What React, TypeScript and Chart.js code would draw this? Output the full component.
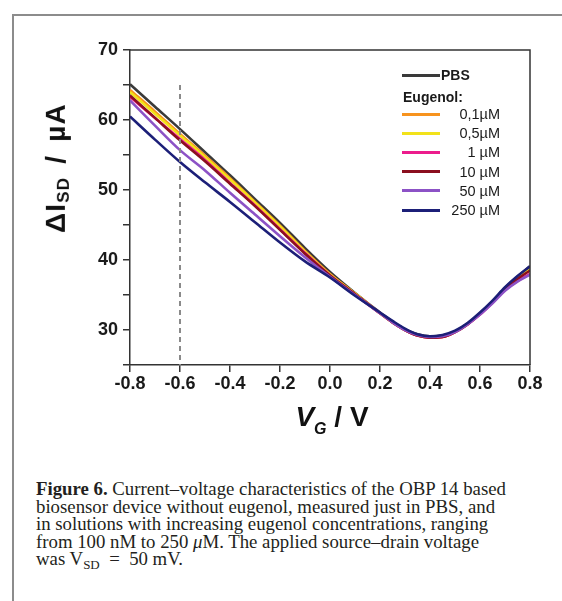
import React, { useEffect, useRef } from "react";
import { Chart, registerables } from "chart.js";

Chart.register(...registerables);

// ---- data ----
const voltages = [-0.8, -0.7, -0.6, -0.5, -0.4, -0.3, -0.2, -0.1, 0, 0.1, 0.2, 0.25, 0.3, 0.35, 0.4, 0.45, 0.5, 0.55, 0.6, 0.65, 0.7, 0.75, 0.8];

const pbs = [65.1, 61.9, 58.7, 55.4, 52.1, 48.7, 45.3, 41.7, 38.3, 35.3, 32.5, 31.2, 30.1, 29.4, 29.1, 29.2, 29.8, 30.9, 32.4, 34.1, 36.0, 37.6, 39.1];
const eug01 = [64.3, 61.2, 58.0, 54.9, 51.7, 48.3, 44.9, 41.3, 38.0, 35.2, 32.4, 31.1, 30.0, 29.2, 28.9, 29.0, 29.7, 30.8, 32.3, 34.0, 35.9, 37.4, 38.6];
const eug05 = [64.0, 60.9, 57.8, 54.7, 51.5, 48.2, 44.8, 41.2, 37.9, 35.2, 32.4, 31.1, 30.0, 29.3, 29.0, 29.1, 29.8, 30.9, 32.4, 34.0, 35.9, 37.4, 38.7];
const eug1 = [63.3, 60.3, 57.3, 54.3, 51.0, 47.8, 44.4, 41.0, 37.8, 35.1, 32.4, 31.1, 30.0, 29.2, 28.9, 29.0, 29.7, 30.8, 32.2, 33.9, 35.7, 37.0, 38.0];
const eug10 = [63.5, 60.3, 57.1, 54.1, 50.9, 47.7, 44.3, 40.9, 37.8, 35.1, 32.4, 31.1, 30.0, 29.2, 28.9, 29.0, 29.7, 30.8, 32.3, 34.0, 35.8, 37.3, 38.5];
const eug50 = [62.8, 59.2, 55.7, 52.8, 49.6, 46.5, 43.4, 40.4, 37.6, 35.0, 32.4, 31.1, 30.0, 29.3, 29.0, 29.1, 29.7, 30.8, 32.2, 33.8, 35.6, 36.9, 37.9];
const eug250 = [60.5, 57.2, 54.0, 51.1, 48.3, 45.4, 42.5, 39.8, 37.5, 34.9, 32.5, 31.3, 30.2, 29.4, 29.1, 29.3, 29.9, 31.0, 32.5, 34.2, 36.1, 37.7, 39.1];

const seriesLabels = ["PBS", "0,1µM", "0,5µM", "1 µM", "10 µM", "50 µM", "250 µM"];
const seriesValues = [pbs, eug01, eug05, eug1, eug10, eug50, eug250];
const seriesColors = ["#3a3a3a", "#f7931e", "#f2e21a", "#ec1c8c", "#8b0f1f", "#8c52c6", "#1c1f78"];
const seriesOrder = [6, 5, 4, 3, 2, 1, 0];

const xMin = -0.8;
const xMax = 0.8;
const xStep = 0.2;
const yMin = 25;
const yMax = 70;
const yStep = 5;
const yLabelStep = 10;
const markerVoltage = -0.6;
const markerTop = 65;

const legendHeader = "Eugenol:";
const xTitleMain = "V";
const xTitleSub = "G";
const xTitleRest = " / V";
const yTitleMain = "ΔI";
const yTitleSub = "SD";
const yTitleRest = " / µA";

const SANS = "'Liberation Sans', Arial, Helvetica, sans-serif";
const SERIF = "'Liberation Serif', 'Times New Roman', serif";

const boxPlugin = {
  id: "boxPlugin",
  afterDatasetsDraw(chart: any) {
    const { ctx, chartArea, scales } = chart;
    const x = scales.x.getPixelForValue(markerVoltage);
    const yTop = scales.y.getPixelForValue(markerTop);
    ctx.save();
    ctx.strokeStyle = "#8a8a8a";
    ctx.lineWidth = 2;
    ctx.setLineDash([5, 4]);
    ctx.beginPath();
    ctx.moveTo(x, yTop);
    ctx.lineTo(x, chartArea.bottom);
    ctx.stroke();
    ctx.restore();
  },
  afterDraw(chart: any) {
    const { ctx, chartArea } = chart;
    ctx.save();
    ctx.strokeStyle = "#333";
    ctx.lineWidth = 1.5;
    ctx.beginPath();
    ctx.moveTo(chartArea.left, chartArea.top);
    ctx.lineTo(chartArea.right, chartArea.top);
    ctx.lineTo(chartArea.right, chartArea.bottom);
    ctx.stroke();
    ctx.restore();
  },
};

function ChartCanvas() {
  const ref = useRef<HTMLCanvasElement>(null);
  useEffect(() => {
    if (!ref.current) return;
    const datasets = seriesValues.map((vals, i) => ({
      label: seriesLabels[i],
      data: voltages.map((v, j) => ({ x: v, y: vals[j] })),
      borderColor: seriesColors[i],
      backgroundColor: seriesColors[i],
      borderWidth: 2.6,
      pointRadius: 0,
      cubicInterpolationMode: "monotone" as const,
      fill: false,
      order: seriesOrder[i],
    }));
    const chart = new Chart(ref.current, {
      type: "line",
      data: { datasets },
      options: {
        animation: false,
        responsive: false,
        devicePixelRatio: 1,
        layout: { padding: { left: 0, right: 32, top: 50, bottom: 0 } },
        plugins: { legend: { display: false }, tooltip: { enabled: false } },
        scales: {
          x: {
            type: "linear",
            min: xMin,
            max: xMax,
            afterFit: (s: any) => {
              s.height = 55;
            },
            ticks: {
              stepSize: xStep,
              padding: 1,
              color: "#1a1a1a",
              font: { family: SANS, size: 18, weight: "bold" },
              callback: (v: any) => (Math.abs(Number(v)) < 1e-9 ? "0.0" : Number(v).toFixed(1)),
            },
            grid: { drawOnChartArea: false, drawTicks: true, tickLength: 7, color: "#333", lineWidth: 1.5 },
            border: { color: "#333", width: 1.5 },
          },
          y: {
            type: "linear",
            min: yMin,
            max: yMax,
            afterFit: (s: any) => {
              s.width = 130;
            },
            ticks: {
              stepSize: yStep,
              padding: 5,
              color: "#1a1a1a",
              font: { family: SANS, size: 18, weight: "bold" },
              callback: (v: any) => (Math.round(Number(v)) % yLabelStep === 0 ? String(Math.round(Number(v))) : ""),
            },
            grid: { drawOnChartArea: false, drawTicks: true, tickLength: 7, color: "#333", lineWidth: 1.5 },
            border: { color: "#333", width: 1.5 },
          },
        },
      },
      plugins: [boxPlugin],
    });
    return () => chart.destroy();
  }, []);
  return <canvas ref={ref} width={562} height={420} style={{ position: "absolute", left: 0, top: 0, width: 562, height: 420 }} />;
}

function Legend() {
  const lineLeft = 402;
  const lineWidth = 38;
  const rows = seriesLabels.slice(1).map((lab, i) => ({ lab, color: seriesColors[i + 1], y: 114 + i * 19.2 }));
  return (
    <div style={{ position: "absolute", left: 0, top: 0, fontFamily: SANS, color: "#1a1a1a" }}>
      <div style={{ position: "absolute", left: lineLeft, top: 75 - 1.5, width: lineWidth, height: 3, background: seriesColors[0] }} />
      <div style={{ position: "absolute", left: 441, top: 75 - 9, height: 18, lineHeight: "18px", fontSize: 14, fontWeight: "bold" }}>{seriesLabels[0]}</div>
      <div style={{ position: "absolute", left: 403, top: 97 - 9, height: 18, lineHeight: "18px", fontSize: 14, fontWeight: "bold" }}>{legendHeader}</div>
      {rows.map((r) => (
        <React.Fragment key={r.lab}>
          <div style={{ position: "absolute", left: lineLeft, top: r.y - 1.5, width: lineWidth, height: 3, background: r.color }} />
          <div style={{ position: "absolute", left: 440, width: 60, top: r.y - 9, height: 18, lineHeight: "18px", fontSize: 14.5, textAlign: "right", whiteSpace: "pre" }}>{r.lab}</div>
        </React.Fragment>
      ))}
    </div>
  );
}

export default function App() {
  return (
    <div style={{ position: "absolute", left: 0, top: 0, width: 562, height: 601, background: "#fff", overflow: "hidden" }}>
      <div style={{ position: "absolute", left: 13, top: 14, width: 549, height: 2, background: "#8c8c8c" }} />
      <div style={{ position: "absolute", left: 12, top: 14, width: 2, height: 587, background: "#8c8c8c" }} />
      <ChartCanvas />
      <Legend />
      <div
        style={{
          position: "absolute",
          left: 60,
          top: 168,
          transform: "translate(-50%, -50%) rotate(-90deg)",
          whiteSpace: "nowrap",
          fontFamily: SANS,
          fontWeight: "bold",
          fontSize: 28,
          letterSpacing: "1.2px",
          wordSpacing: "4px",
          color: "#111",
          lineHeight: "32px",
        }}
      >
        {yTitleMain}
        <sub style={{ fontSize: 17, verticalAlign: "-0.25em" }}>{yTitleSub}</sub>
        {yTitleRest}
      </div>
      <div
        style={{
          position: "absolute",
          left: 332,
          top: 423,
          transform: "translate(-50%, -50%)",
          whiteSpace: "nowrap",
          fontFamily: SANS,
          fontWeight: "bold",
          fontSize: 28,
          color: "#111",
          lineHeight: "32px",
        }}
      >
        <i>{xTitleMain}</i>
        <sub style={{ fontSize: 16, fontStyle: "italic", verticalAlign: "-0.45em" }}>{xTitleSub}</sub>
        {xTitleRest}
      </div>
      <div
        style={{
          position: "absolute",
          left: 36,
          top: 480,
          fontFamily: SERIF,
          fontSize: 18.8,
          lineHeight: "17.5px",
          color: "#231f20",
          whiteSpace: "nowrap",
        }}
      >
        <div>
          <b>Figure 6.</b> Current–voltage characteristics of the OBP 14 based
        </div>
        <div>biosensor device without eugenol, measured just in PBS, and</div>
        <div>in solutions with increasing eugenol concentrations, ranging</div>
        <div>
          from 100 nM to 250 <i>μ</i>M. The applied source–drain voltage
        </div>
        <div>
          was V<sub style={{ fontSize: 13, verticalAlign: "-0.3em", lineHeight: 0 }}>SD</sub>
          {"\u2002=\u2002"}50 mV.
        </div>
      </div>
    </div>
  );
}
